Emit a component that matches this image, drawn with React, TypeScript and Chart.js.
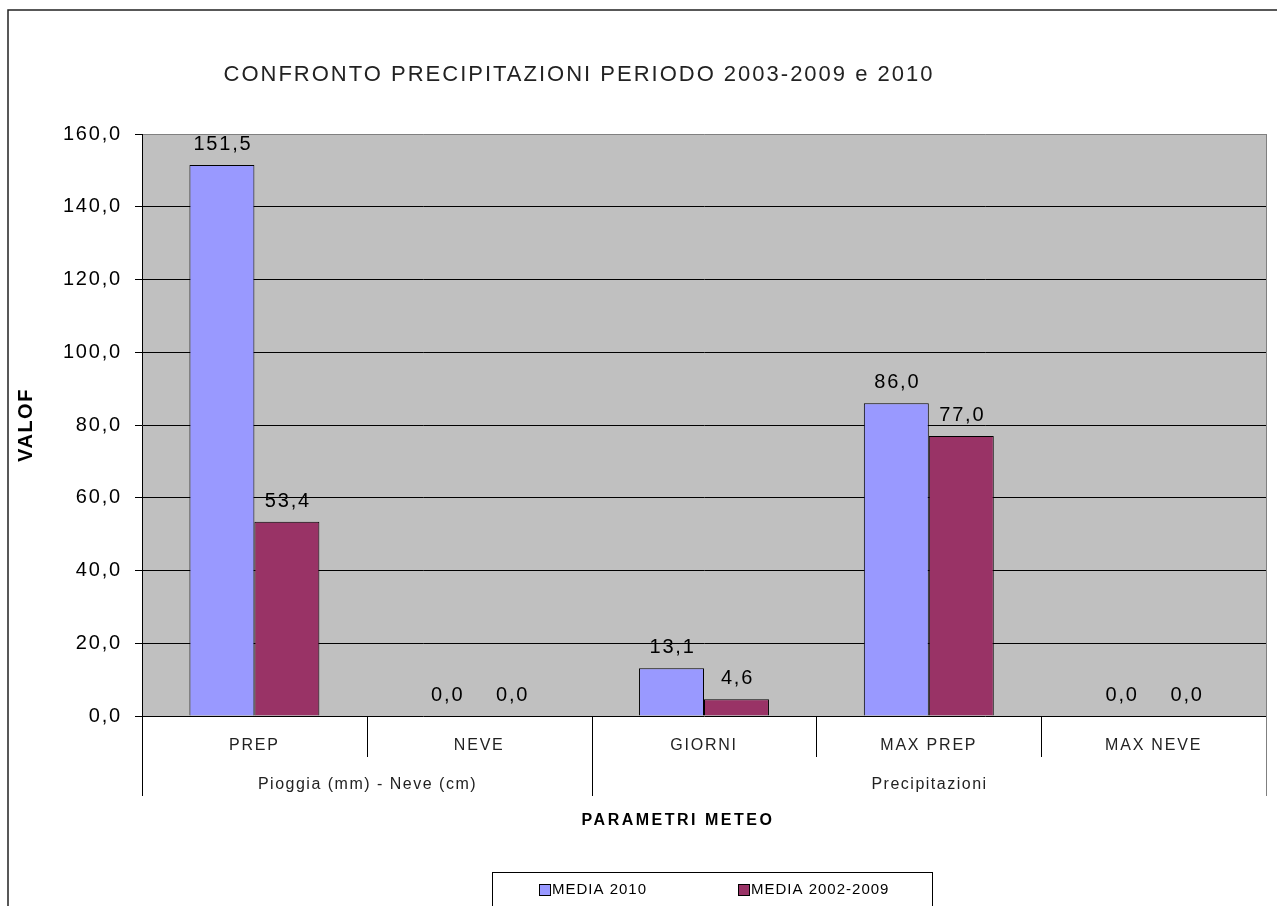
import React, { useEffect, useRef } from 'react';
import { Chart, registerables } from 'chart.js';

Chart.register(...registerables);

const W = 1277;
const H = 906;

const categories = ['PREP', 'NEVE', 'GIORNI', 'MAX PREP', 'MAX NEVE'];
const groupLabels = ['Pioggia (mm) - Neve (cm)', 'Precipitazioni'];
const groupSizes = [2, 3];
const seriesNames = ['MEDIA 2010', 'MEDIA 2002-2009'];
const media2010 = [151.5, 0.0, 13.1, 86.0, 0.0];
const media20022009 = [53.4, 0.0, 4.6, 77.0, 0.0];
const seriesColors = ['#9999FF', '#993366'];
const yMin = 0;
const yMax = 160;
const yStep = 20;
const titleText = 'CONFRONTO PRECIPITAZIONI PERIODO 2003-2009 e 2010';
const yTitle = 'VALOF';
const xTitle = 'PARAMETRI METEO';

const FONT = '"Liberation Sans", Arial, Helvetica, sans-serif';
const fmt = (v: number) => Number(v).toFixed(1).replace('.', ',');

const decor = {
  id: 'decor',
  beforeDraw(chart: any) {
    const ctx = chart.ctx as CanvasRenderingContext2D;
    const a = chart.chartArea;
    (ctx as any).letterSpacing = '1.8px';
    ctx.save();
    ctx.fillStyle = '#ffffff';
    ctx.fillRect(0, 0, W, H);
    ctx.strokeStyle = '#222';
    ctx.lineWidth = 1.5;
    ctx.strokeRect(8, 10, W + 20, H + 20);
    ctx.fillStyle = '#C0C0C0';
    ctx.fillRect(a.left, a.top, a.right - a.left, a.bottom - a.top);
    ctx.restore();
  },
  afterDraw(chart: any) {
    const ctx = chart.ctx as CanvasRenderingContext2D;
    const a = chart.chartArea;
    const xs = chart.scales.x;
    const n = categories.length;

    const bounds: number[] = [];
    for (let i = 0; i <= n; i++) {
      let px;
      if (i === 0) px = a.left;
      else if (i === n) px = a.right;
      else px = (xs.getPixelForValue(i - 1) + xs.getPixelForValue(i)) / 2;
      bounds.push(Math.round(px) + 0.5);
    }
    const groupStarts: number[] = [0];
    groupSizes.forEach((s) => groupStarts.push(groupStarts[groupStarts.length - 1] + s));

    ctx.save();
    ctx.lineWidth = 1;
    for (let i = 0; i <= n; i++) {
      const isGroup = groupStarts.includes(i);
      ctx.strokeStyle = i === n ? '#808080' : '#000';
      ctx.beginPath();
      ctx.moveTo(bounds[i], i === n ? a.top : a.bottom);
      ctx.lineTo(bounds[i], a.bottom + (isGroup ? 80 : 41));
      ctx.stroke();
    }

    // group labels
    (ctx as any).letterSpacing = '1.5px';
    ctx.font = `16px ${FONT}`;
    ctx.fillStyle = '#222';
    ctx.textAlign = 'center';
    ctx.textBaseline = 'middle';
    groupLabels.forEach((g, gi) => {
      const cx = (bounds[groupStarts[gi]] + bounds[groupStarts[gi + 1]]) / 2;
      ctx.fillText(g, cx, a.bottom + 69);
    });

    // data labels
    (ctx as any).letterSpacing = '1.8px';
    ctx.font = `20px ${FONT}`;
    ctx.fillStyle = '#000';
    ctx.textBaseline = 'alphabetic';
    chart.data.datasets.forEach((ds: any, di: number) => {
      const meta = chart.getDatasetMeta(di);
      meta.data.forEach((el: any, i: number) => {
        ctx.fillText(fmt(ds.data[i]), el.x + 1, el.y - 15);
      });
    });

    // title
    (ctx as any).letterSpacing = '2px';
    ctx.font = `22px ${FONT}`;
    ctx.fillStyle = '#222';
    ctx.textBaseline = 'middle';
    ctx.fillText(titleText, 579, 75);

    // x axis title
    (ctx as any).letterSpacing = '2.5px';
    ctx.font = `bold 16px ${FONT}`;
    ctx.fillStyle = '#000';
    ctx.fillText(xTitle, 678, 821);

    // y axis title
    ctx.save();
    ctx.translate(26, 425);
    ctx.rotate(-Math.PI / 2);
    (ctx as any).letterSpacing = '1.5px';
    ctx.font = `bold 20px ${FONT}`;
    ctx.fillText(yTitle, 0, 0);
    ctx.restore();

    // legend
    ctx.strokeStyle = '#000';
    ctx.lineWidth = 1;
    ctx.strokeRect(492.5, 872.5, 440, 60);
    const itemX = [539, 738];
    (ctx as any).letterSpacing = '1px';
    ctx.font = `15px ${FONT}`;
    ctx.textAlign = 'left';
    ctx.textBaseline = 'middle';
    seriesNames.forEach((s, i) => {
      ctx.fillStyle = seriesColors[i];
      ctx.fillRect(itemX[i] + 0.5, 884.5, 11, 11);
      ctx.strokeStyle = '#000';
      ctx.strokeRect(itemX[i] + 0.5, 884.5, 11, 11);
      ctx.fillStyle = '#000';
      ctx.fillText(s, itemX[i] + 13, 890);
    });
    ctx.restore();
  },
};

export default function App() {
  const ref = useRef<HTMLCanvasElement | null>(null);
  useEffect(() => {
    if (!ref.current) return;
    const chart = new Chart(ref.current, {
      type: 'bar',
      data: {
        labels: categories,
        datasets: [
          {
            label: seriesNames[0],
            data: media2010,
            backgroundColor: seriesColors[0],
            borderColor: '#000',
            borderWidth: 1,
            barPercentage: 1,
            categoryPercentage: 0.578,
          },
          {
            label: seriesNames[1],
            data: media20022009,
            backgroundColor: seriesColors[1],
            borderColor: '#000',
            borderWidth: 1,
            barPercentage: 1,
            categoryPercentage: 0.578,
          },
        ],
      },
      options: {
        responsive: false,
        maintainAspectRatio: false,
        animation: false,
        events: [],
        layout: { padding: { top: 134, right: 11, left: 0, bottom: 0 } },
        plugins: {
          legend: { display: false },
          title: { display: false },
          tooltip: { enabled: false },
        },
        scales: {
          x: {
            ticks: {
              font: { family: FONT, size: 16 },
              color: '#222',
              padding: 20,
              maxRotation: 0,
              autoSkip: false,
            },
            grid: { display: false, drawTicks: false },
            border: { display: false },
            afterFit: (s: any) => {
              s.height = 190;
            },
          },
          y: {
            min: yMin,
            max: yMax,
            ticks: {
              stepSize: yStep,
              callback: (v: any) => fmt(Number(v)),
              font: { family: FONT, size: 20 },
              color: '#000',
              padding: 13,
            },
            grid: {
              color: (c: any) => (c.tick && c.tick.value === yMax ? '#808080' : '#000'),
              tickColor: '#000',
              tickLength: 7,
              lineWidth: 1,
            },
            border: { display: true, color: '#000', width: 1 },
            afterFit: (s: any) => {
              s.width = 142;
            },
          },
        },
      },
      plugins: [decor],
    } as any);
    return () => chart.destroy();
  }, []);
  return (
    <div style={{ position: 'fixed', left: 0, top: 0, width: W, height: H, overflow: 'hidden', background: '#fff' }}>
      <canvas ref={ref} width={W} height={H} style={{ display: 'block' }} />
    </div>
  );
}
